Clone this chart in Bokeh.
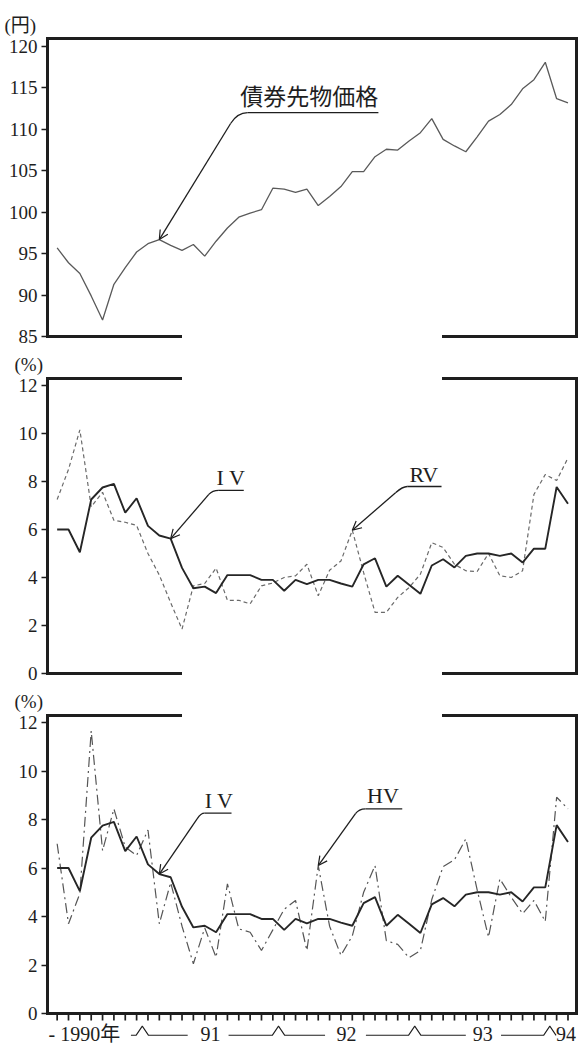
import numpy as np
from bokeh.plotting import figure
from bokeh.layouts import column
from bokeh.models import Range1d, LinearAxis, FixedTicker, Arrow, OpenHead
from bokeh.core.properties import value
from bokeh.embed import file_html
from bokeh.resources import INLINE

# Monthly observations, May 1990 .. Feb 1994
month_index = list(range(46))

# JGB futures price (yen)
futures_price = [95.7, 93.9, 92.6, 89.9, 87.0, 91.3, 93.3, 95.2, 96.2, 96.7,
                 96.0, 95.4, 96.1, 94.7, 96.5, 98.1, 99.4, 99.9, 100.3, 102.9,
                 102.8, 102.4, 102.8, 100.8, 101.9, 103.1, 104.9, 104.9, 106.7, 107.6,
                 107.5, 108.6, 109.6, 111.3, 108.8, 108.0, 107.3, 109.1, 111.0, 111.8,
                 113.0, 114.9, 116.0, 118.1, 113.7, 113.2]

# Implied volatility (%)
implied_vol = [6.0, 6.0, 5.05, 7.25, 7.75, 7.9, 6.7, 7.3, 6.15, 5.75,
               5.62, 4.4, 3.55, 3.62, 3.35, 4.1, 4.1, 4.1, 3.9, 3.9,
               3.45, 3.9, 3.72, 3.9, 3.9, 3.75, 3.62, 4.55, 4.8, 3.62,
               4.07, 3.7, 3.32, 4.5, 4.76, 4.42, 4.9, 5.0, 5.0, 4.9,
               5.0, 4.62, 5.2, 5.2, 7.77, 7.07]

# Realized volatility (%)
realized_vol = [7.25, 8.5, 10.15, 6.95, 7.55, 6.38, 6.3, 6.17, 5.0, 4.1,
                2.95, 1.85, 3.65, 3.75, 4.39, 3.05, 3.05, 2.9, 3.65, 3.77,
                4.0, 4.07, 4.55, 3.24, 4.3, 4.69, 5.97, 4.2, 2.55, 2.55,
                3.17, 3.58, 4.14, 5.45, 5.25, 4.55, 4.28, 4.25, 5.0, 4.07,
                4.0, 4.28, 7.46, 8.29, 8.04, 8.98]

# Historical volatility (%)
historical_vol = [7.0, 3.7, 4.95, 11.65, 6.72, 8.44, 6.86, 6.52, 7.57, 3.7,
                  5.4, 3.6, 2.05, 3.53, 2.32, 5.35, 3.49, 3.35, 2.6, 3.45,
                  4.3, 4.66, 2.6, 6.1, 3.6, 2.4, 3.2, 5.0, 6.1, 3.0,
                  2.85, 2.3, 2.6, 4.7, 6.06, 6.34, 7.2, 5.1, 3.15, 5.55,
                  4.8, 4.12, 4.66, 3.8, 8.92, 8.44]

price_ticks = [85, 90, 95, 100, 105, 110, 115, 120]
vol_ticks = [0, 2, 4, 6, 8, 10, 12]

year_labels = ["- 1990年", "91", "92", "93", "94"]
year_label_x = [-0.76, 13.5, 25.5, 37.5, 43.95]
year_breaks = [7.5, 19.5, 31.5, 43.4]

INK = "#1e1e1e"
SERIF = "'Liberation Serif', 'Noto Sans CJK JP', serif"
CJK = "'Noto Sans CJK JP', sans-serif"

X0, X1 = -0.85, 45.75
FRAME_L, FRAME_R = 47, 6
OPEN_L, OPEN_R = 10.85, 34.05   # interruption of the inner frame edges
VOL_TOP = 12.29


def rule(bounds="auto", fixed=None):
    ax = LinearAxis(ticker=FixedTicker(ticks=[]), bounds=bounds,
                    axis_line_width=3, axis_line_color=INK, axis_line_cap="square",
                    major_tick_out=0, major_tick_in=0,
                    minor_tick_out=0, minor_tick_in=0,
                    major_label_text_font_size="1px", major_label_standoff=0,
                    axis_label_standoff=0)
    if fixed is not None:
        ax.fixed_location = fixed
    return ax


def panel(height, top, bottom, yr, ticks, unit, unit_offset, unit_standoff,
          top_full, time_axis=False):
    p = figure(width=582, height=height, x_range=Range1d(X0, X1), y_range=Range1d(*yr),
               x_axis_location=None, y_axis_location=None,
               output_backend="svg", toolbar_location=None,
               min_border_left=FRAME_L, min_border_right=FRAME_R,
               min_border_top=top, min_border_bottom=bottom)
    p.outline_line_color = None
    p.xgrid.grid_line_color = None
    p.ygrid.grid_line_color = None

    # the time-axis panel keeps room under y=0 for the year captions
    vbounds = (0, yr[1]) if time_axis else "auto"

    left = LinearAxis(ticker=FixedTicker(ticks=ticks), bounds=vbounds, axis_line_width=3,
                      axis_line_color=INK, axis_line_cap="square",
                      major_tick_out=6, major_tick_in=0, major_tick_line_width=1.5,
                      major_tick_line_color=INK, minor_tick_out=0, minor_tick_in=0,
                      major_label_text_font=SERIF, major_label_text_font_size="19px",
                      major_label_text_color=INK, major_label_standoff=4)
    p.add_layout(left, "left")
    p.add_layout(rule(vbounds), "right")

    if top_full:
        p.add_layout(rule(), "above")
    else:
        p.add_layout(rule((X0, OPEN_L)), "above")
        p.add_layout(rule((OPEN_R, X1)), "above")

    if time_axis:
        p.add_layout(rule(fixed=0), "below")
    else:
        p.add_layout(rule((X0, OPEN_L)), "below")
        p.add_layout(rule((OPEN_R, X1)), "below")

    p.title.text = unit
    p.title.text_font = SERIF
    p.title.text_font_size = "19px"
    p.title.text_font_style = "normal"
    p.title.text_color = INK
    p.title.align = "left"
    p.title.offset = unit_offset
    p.title.standoff = unit_standoff
    return p


def callout(p, tip, elbow, corner, end_x, label, text_xy, font, size):
    cx = elbow[0] + (corner[1] - elbow[1]) * (elbow[0] - tip[0]) / (elbow[1] - tip[1])
    p.add_layout(Arrow(end=OpenHead(size=9, line_color=INK, line_width=1.2),
                       x_start=elbow[0], y_start=elbow[1], x_end=tip[0], y_end=tip[1],
                       line_color=INK, line_width=1.3))
    p.quadratic(x0=[elbow[0]], y0=[elbow[1]], x1=[corner[0]], y1=[corner[1]],
                cx=[cx], cy=[corner[1]], line_color=INK, line_width=1.3)
    p.segment(x0=[corner[0]], y0=[corner[1]], x1=[end_x], y1=[corner[1]],
              line_color=INK, line_width=1.3)
    p.text(x=[text_xy[0]], y=[text_xy[1]], text=[label], text_font=value(font),
           text_font_size=size, text_align="center", text_baseline="middle",
           text_color=INK)


# --- futures price ---
p1 = panel(347, 38, 11, (85, 120.97), price_ticks, "(円)", -43, 5, True)
p1.line(month_index, futures_price, line_color="#5a5a5a", line_width=1.3)
callout(p1, (9, futures_price[9]), (15.28, 110.71), (16.78, 112.03), 28.3,
        "債券先物価格", (22.2, 114.1), CJK, "23px")

# --- implied vs realized volatility ---
p2 = panel(337, 30, 11, (0, VOL_TOP), vol_ticks, "(%)", -33, 8, False)
p2.line(month_index, realized_vol, line_color="#6a6a6a", line_width=1.2, line_dash="4 3")
p2.line(month_index, implied_vol, line_color="#262626", line_width=1.9)
callout(p2, (10, implied_vol[10]), (13.36, 7.46), (14.24, 7.63), 16.44,
        "I V", (15.31, 8.16), SERIF, "22px")
callout(p2, (26, realized_vol[26]), (29.81, 7.53), (30.84, 7.79), 33.86,
        "RV", (32.3, 8.28), SERIF, "22px")

# --- implied vs historical volatility, with the time axis and year captions ---
CAPTION_DEPTH = 1.2785
p3 = panel(360, 31, 0, (-CAPTION_DEPTH, VOL_TOP), vol_ticks, "(%)", -33, 8, False,
           time_axis=True)
p3.line(month_index, historical_vol, line_color="#555555", line_width=1.2,
        line_dash="10 4 2 4")
p3.line(month_index, implied_vol, line_color="#262626", line_width=1.9)
callout(p3, (9, implied_vol[9]), (12.33, 8.03), (12.98, 8.26), 15.36,
        "I V", (14.26, 8.78), SERIF, "22px")
callout(p3, (23, historical_vol[23]), (26.28, 8.24), (27.16, 8.44), 30.4,
        "HV", (28.7, 8.99), SERIF, "22px")

# monthly tick marks hanging under the time axis
tick_xs = [[m, m] for m in month_index]
tick_ys = [[-0.02, -0.29] for _ in month_index]
p3.multi_line(tick_xs, tick_ys, line_color=INK, line_width=1.7)

caption_y, rule_y, peak_y = -0.83, -0.90, -0.52
left_reach = [1.0, 4.4, 4.3, 4.3]
right_reach = [4.0, 4.1, 4.5, 0.55]
xs, ys = [], []
for b, l, r in zip(year_breaks, left_reach, right_reach):
    xs.append([b - l, b - 0.55, b, b + 0.55, b + r])
    ys.append([rule_y, rule_y, peak_y, rule_y, rule_y])
p3.multi_line(xs, ys, line_color=INK, line_width=1.1)

p3.text(x=[year_label_x[0], year_label_x[4]], y=[caption_y] * 2,
        text=[year_labels[0], year_labels[4]], text_font=value(SERIF),
        text_font_size="20px", text_align="left", text_baseline="middle", text_color=INK)
p3.text(x=year_label_x[1:4], y=[caption_y] * 3, text=year_labels[1:4],
        text_font=value(SERIF), text_font_size="20px", text_align="center",
        text_baseline="middle", text_color=INK)

layout = column(p1, p2, p3, spacing=0)
open("out.html", "w").write(file_html(layout, INLINE))
